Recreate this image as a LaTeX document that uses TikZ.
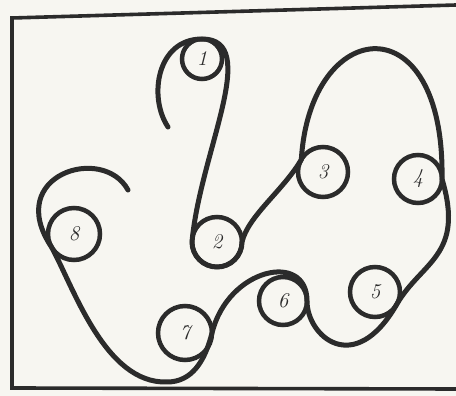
\documentclass[tikz,border=0pt]{standalone}
\usepackage{tikz}
\usetikzlibrary{calc}
\definecolor{paper}{HTML}{F7F6F1}
\definecolor{ink}{HTML}{2B2B2B}

\begin{document}
\begin{tikzpicture}[x=1pt, y=1pt, every node/.style={font=\fontsize{21}{24}\selectfont\itshape},
  ring/.style={draw=ink, circle, line width=4.5pt, inner sep=0pt, outer sep=0pt, text=ink},
  strand/.style={draw=ink, line width=5pt, line cap=round, line join=round}]
  \fill[paper] (0,0) rectangle (456,396);
  \useasboundingbox (0,0) rectangle (456,396);
  % frame, open on the right
  \draw[ink, line width=3.6pt] (456,391) -- (12,378) -- (12,8) -- (456,7);

  \node[ring, minimum size=40pt] (c1) at (202,337) {1};
  \node[ring, minimum size=50pt] (c2) at (217,154) {2};
  \node[ring, minimum size=50pt] (c3) at (323,224) {3};
  \node[ring, minimum size=48pt] (c4) at (418,217) {4};
  \node[ring, minimum size=50pt] (c5) at (375,104) {5};
  \node[ring, minimum size=48pt] (c6) at (283,95) {6};
  \node[ring, minimum size=54pt] (c7) at (185,63) {7};
  \node[ring, minimum size=52pt] (c8) at (74,162) {8};

  \coordinate (tail) at (168,269);
  \coordinate (dip) at (167,14);
  \coordinate (hook) at (128,206);

  \path[strand]
    (tail) .. controls +(-20,30) and +(-45,0) .. (c1.north)
    .. controls +(60,0) and +(8,90) .. (c2.west)
    arc[start angle=180, end angle=360, radius=25]
    .. controls +(6,26) and +(-17.5,-30.3) .. (c3.150)
    .. controls +(8.65,143.5) and +(3,178) .. (c4.east)
    .. controls +(23,-77) and +(25,43.3) .. (c5.-30)
    .. controls +(-42.5,-73.6) and +(0,-35) .. (c6.east)
    .. controls +(0,50) and +(16,65) .. (c7.east)
    .. controls +(-7,-28) and +(25,0) .. (dip)
    .. controls +(-62,-2) and +(22,-40) .. (c8.-150)
    .. controls +(-48,72) and +(-25,46) .. (hook);
\end{tikzpicture}
\end{document}
